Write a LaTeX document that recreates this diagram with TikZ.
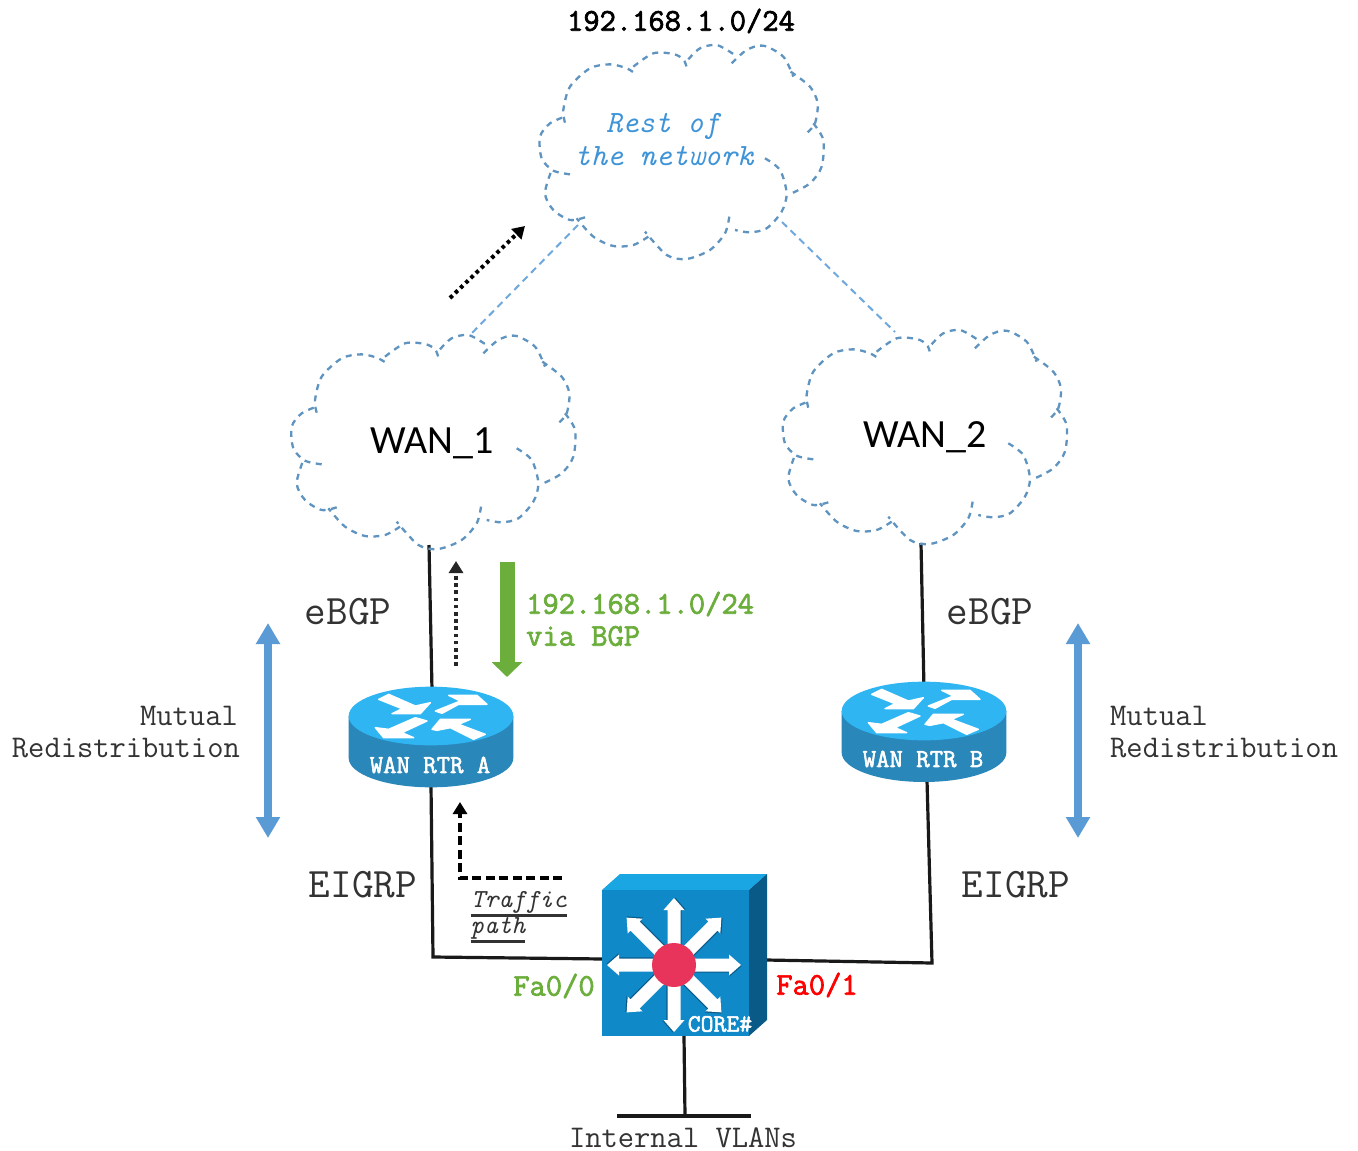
\documentclass[tikz,border=0pt]{standalone}
\usepackage{fontspec}
\usetikzlibrary{arrows.meta}
\newfontfamily\calfont{Carlito}
\newfontfamily\fatmono[FakeBold=2.2]{Latin Modern Mono}
\newcommand{\ulbar}[1]{\vtop{\hbox{#1}\kern1pt\hrule height 2.6pt}}
\definecolor{cloudc}{HTML}{5F93C0}
\definecolor{linkc}{HTML}{6FA8DC}
\definecolor{restc}{HTML}{3F94D8}
\definecolor{rtop}{HTML}{2FB5F2}
\definecolor{rside}{HTML}{2A87BA}
\definecolor{swfront}{HTML}{1089C9}
\definecolor{swtop}{HTML}{19A6E2}
\definecolor{swside}{HTML}{0A5A88}
\definecolor{redc}{HTML}{E8345A}
\definecolor{greenc}{HTML}{6BAE3C}
\definecolor{bluearr}{HTML}{5B9BD5}
\definecolor{graytxt}{HTML}{333333}
\tikzset{
  lobe/.style={draw=cloudc,line width=2.3pt,dash pattern=on 6pt off 5.5pt},
  netlink/.style={draw=black!90,line width=3.2pt,line join=miter},
  bluelink/.style={draw=linkc,line width=2pt,dash pattern=on 7pt off 5pt},
  mono/.style={font=\ttfamily\fontsize{31.6}{36}\selectfont,text=graytxt,inner sep=0pt},
  monoit/.style={font=\ttfamily\itshape\fontsize{31}{36}\selectfont,inner sep=0pt},
  monobold/.style={font=\fatmono\fontsize{31.6}{36}\selectfont,inner sep=0pt},
  rtrlabel/.style={font=\fatmono\fontsize{26}{30}\selectfont,inner sep=0pt,text=white},
  big/.style={font=\ttfamily\fontsize{42}{44}\selectfont,text=graytxt,inner sep=0pt},
  wan/.style={font=\calfont\fontsize{40}{44}\selectfont,inner sep=0pt},
  updown/.style={draw=bluearr,line width=8pt,{Triangle[length=21pt,width=23pt]}-{Triangle[length=21pt,width=23pt]}},
  pics/netcloud/.style={code={
    \begin{scope}[x=0.3333pt,y=-0.3333pt]
    \draw[lobe] plot[smooth] coordinates {(135,278)(130,240)(150,170)(210,115)(270,103)(320,115)(352,135)};
    \draw[lobe] plot[smooth] coordinates {(340,110)(400,70)(460,72)(490,88)(500,112)};
    \draw[lobe] plot[smooth] coordinates {(505,88)(540,55)(590,45)(640,72)};
    \draw[lobe] plot[smooth] coordinates {(635,100)(680,60)(730,47)(790,80)(820,140)};
    \draw[lobe] plot[smooth] coordinates {(812,125)(870,170)(893,220)(885,280)(860,310)};
    \draw[lobe] plot[smooth] coordinates {(880,280)(910,330)(905,410)(870,460)(815,490)};
    \draw[lobe] plot[smooth] coordinates {(735,385)(780,420)(800,490)(785,545)(740,595)(690,607)(645,600)};
    \draw[lobe] plot[smooth] coordinates {(628,560)(615,610)(570,660)(500,687)(440,675)(375,605)};
    \draw[lobe] plot[smooth] coordinates {(385,620)(340,645)(280,648)(220,620)(170,565)};
    \draw[lobe] plot[smooth] coordinates {(195,562)(150,570)(100,540)(75,490)(95,420)};
    \draw[lobe] plot[smooth] coordinates {(150,433)(100,422)(65,385)(60,320)(90,280)(135,260)};
    \end{scope}}},
  pics/netrouter/.style={code={
    \begin{scope}[x=0.3333pt,y=-0.3333pt]
    \fill[rside] (-247,0) -- (-247,#1) arc[start angle=180,end angle=360,x radius=247,y radius=-88] -- (247,0) -- cycle;
    \fill[rtop] (0,0) ellipse[x radius=247,y radius=88];
    \begin{scope}[draw=white,fill=white,line width=1.4pt,line join=round]
    \filldraw (-157,-50) -- (-127,-65) -- (-47,-30) -- (-2,-40) -- (-32,-7) -- (-117,-7) -- (-87,-22) -- cycle;
    \filldraw (13,-15) -- (88,-45) -- (53,-62) -- (138,-62) -- (168,-35) -- (83,-35) -- (33,-8) -- cycle;
    \filldraw (-12,15) -- (-87,50) -- (-52,65) -- (-142,65) -- (-167,35) -- (-127,40) -- (-47,5) -- cycle;
    \filldraw (163,55) -- (128,70) -- (58,35) -- (18,43) -- (3,40) -- (28,10) -- (118,10) -- (83,25) -- cycle;
    \end{scope}
    \end{scope}}}
}
\begin{document}
\begin{tikzpicture}[x=1pt,y=-1pt]
\useasboundingbox (0,0) rectangle (1358,1151);
\fill[white] (0,0) rectangle (1358,1151);
% anchor coordinates
\coordinate (cloudR) at (520,30);
\coordinate (cloudA) at (271.7,320);
\coordinate (cloudB) at (763.3,315);
\coordinate (rtrA) at (431,716);
\coordinate (rtrB) at (924,711);
\coordinate (core) at (674,965);
\coordinate (restL) at (578,225);
\coordinate (restR) at (782,222);
\coordinate (wanAtop) at (470,335);
\coordinate (wanBtop) at (895,332);
\coordinate (wanAbot) at (429,545);
\coordinate (wanBbot) at (921,543);
\coordinate (rAtop) at (432,690);
\coordinate (rBtop) at (924,690);
\coordinate (rAbot) at (431,785);
\coordinate (rBbot) at (927,780);
\coordinate (elbowA) at (433,957);
\coordinate (swL) at (603,959);
\coordinate (swR) at (766,960);
\coordinate (elbowB) at (932,963);
\coordinate (swB) at (684,1036);
\coordinate (vlan) at (685,1116);
\coordinate (vlanL) at (617,1116);
\coordinate (vlanR) at (751,1116);
\coordinate (dotS) at (450,298);
\coordinate (dotE) at (525,226);
\coordinate (dot2S) at (456,666);
\coordinate (dot2E) at (456,561);
\coordinate (grS) at (507,562);
\coordinate (grE) at (507,677);
\coordinate (trS) at (562,878);
\coordinate (trM) at (460,878);
\coordinate (trE) at (460,802);
\coordinate (udAt) at (268,623);
\coordinate (udAb) at (268,838);
\coordinate (udBt) at (1078,623);
\coordinate (udBb) at (1078,838);
% links
\draw[bluelink] (restL) -- (wanAtop);
\draw[bluelink] (restR) -- (wanBtop);
\draw[netlink] (wanAbot) -- (rAtop);
\draw[netlink] (wanBbot) -- (rBtop);
\draw[netlink] (rAbot) -- (elbowA) -- (swL);
\draw[netlink] (swR) -- (elbowB) -- (rBbot);
\draw[netlink] (swB) -- (vlan);
\draw[netlink] (vlanL) -- (vlanR);
% clouds
\pic at (cloudR) {netcloud};
\pic at (cloudA) {netcloud};
\pic at (cloudB) {netcloud};
% routers
\pic at (rtrA) {netrouter={126}};
\pic at (rtrB) {netrouter={125}};
% switch
\begin{scope}[shift={(core)}]
\fill[swtop] (-72,-75) -- (-54,-91) -- (93,-91) -- (75,-75) -- cycle;
\fill[swside] (75,-75) -- (93,-91) -- (93,55) -- (75,71) -- cycle;
\fill[swfront] (-72,-75) rectangle (75,71);
\foreach \a in {0,45,...,315}{
  \fill[swside,rotate=\a,shift={(0.5,1.2)}] (0,-6.5) -- (55,-6.5) -- (55,-10.5) -- (67,0) -- (55,10.5) -- (55,6.5) -- (0,6.5) -- cycle;
  \fill[white,rotate=\a] (0,-6.5) -- (55,-6.5) -- (55,-10.5) -- (67,0) -- (55,10.5) -- (55,6.5) -- (0,6.5) -- cycle;
}
\fill[redc] (0,0) circle[radius=22];
\end{scope}
% arrows
\draw[black,line width=4pt,dash pattern=on 3.6pt off 3.6pt,-{Triangle[length=12pt,width=14pt]}] (dotS) -- (dotE);
\draw[black!85,line width=4pt,dash pattern=on 3.6pt off 3.6pt,-{Triangle[length=12pt,width=14pt]}] (dot2S) -- (dot2E);
\draw[black,line width=3.4pt,dash pattern=on 9pt off 4.5pt,-{Triangle[length=12pt,width=14pt]}] (trS) -- (trM) -- (trE);
\draw[greenc,line width=15pt,-{Triangle[length=15pt,width=30pt]}] (grS) -- (grE);
\draw[updown] (udAt) -- (udAb);
\draw[updown] (udBt) -- (udBb);
% texts
\node[monobold] (t1) at (681,21) {192.168.1.0/24};
\node[monoit,text=restc] (t2) at (663,126) {Rest of};
\node[monoit,text=restc] (t3) at (664,156) {the network};
\node[wan] (t4) at (432,443) {WAN\_1};
\node[wan] (t5) at (925,437) {WAN\_2};
\node[big] (t6) at (348,612) {eBGP};
\node[big] (t7) at (990,612) {eBGP};
\node[big] (t8) at (363,885) {EIGRP};
\node[big] (t9) at (1016,885) {EIGRP};
\node[mono,anchor=east] (t10) at (238,716) {Mutual};
\node[mono,anchor=east] (t11) at (240,748) {Redistribution};
\node[mono,anchor=west] (t12) at (1110,716) {Mutual};
\node[mono,anchor=west] (t13) at (1110,748) {Redistribution};
\node[monobold,text=greenc,anchor=west] (t14) at (526,604) {192.168.1.0/24};
\node[monobold,text=greenc,anchor=west] (t15) at (526,636) {via BGP};
\node[rtrlabel] (t16) at (430,765) {WAN RTR A};
\node[rtrlabel] (t17) at (923,759) {WAN RTR B};
\node[inner sep=0pt,text=graytxt,font=\ttfamily\itshape\fontsize{26}{30}\selectfont] (t18) at (519,904) {\ulbar{Traffic}};
\node[inner sep=0pt,text=graytxt,font=\ttfamily\itshape\fontsize{26}{30}\selectfont] (t19) at (498,930) {\ulbar{path}};
\node[monobold,text=greenc] (t20) at (554,986) {Fa0/0};
\node[monobold,text=red] (t21) at (817,985) {Fa0/1};
\node[mono] (t22) at (683,1137.5) {Internal VLANs};
\node[rtrlabel,font=\fatmono\fontsize{25}{28}\selectfont] (t23) at (720,1024) {CORE\#};
\end{tikzpicture}
\end{document}
